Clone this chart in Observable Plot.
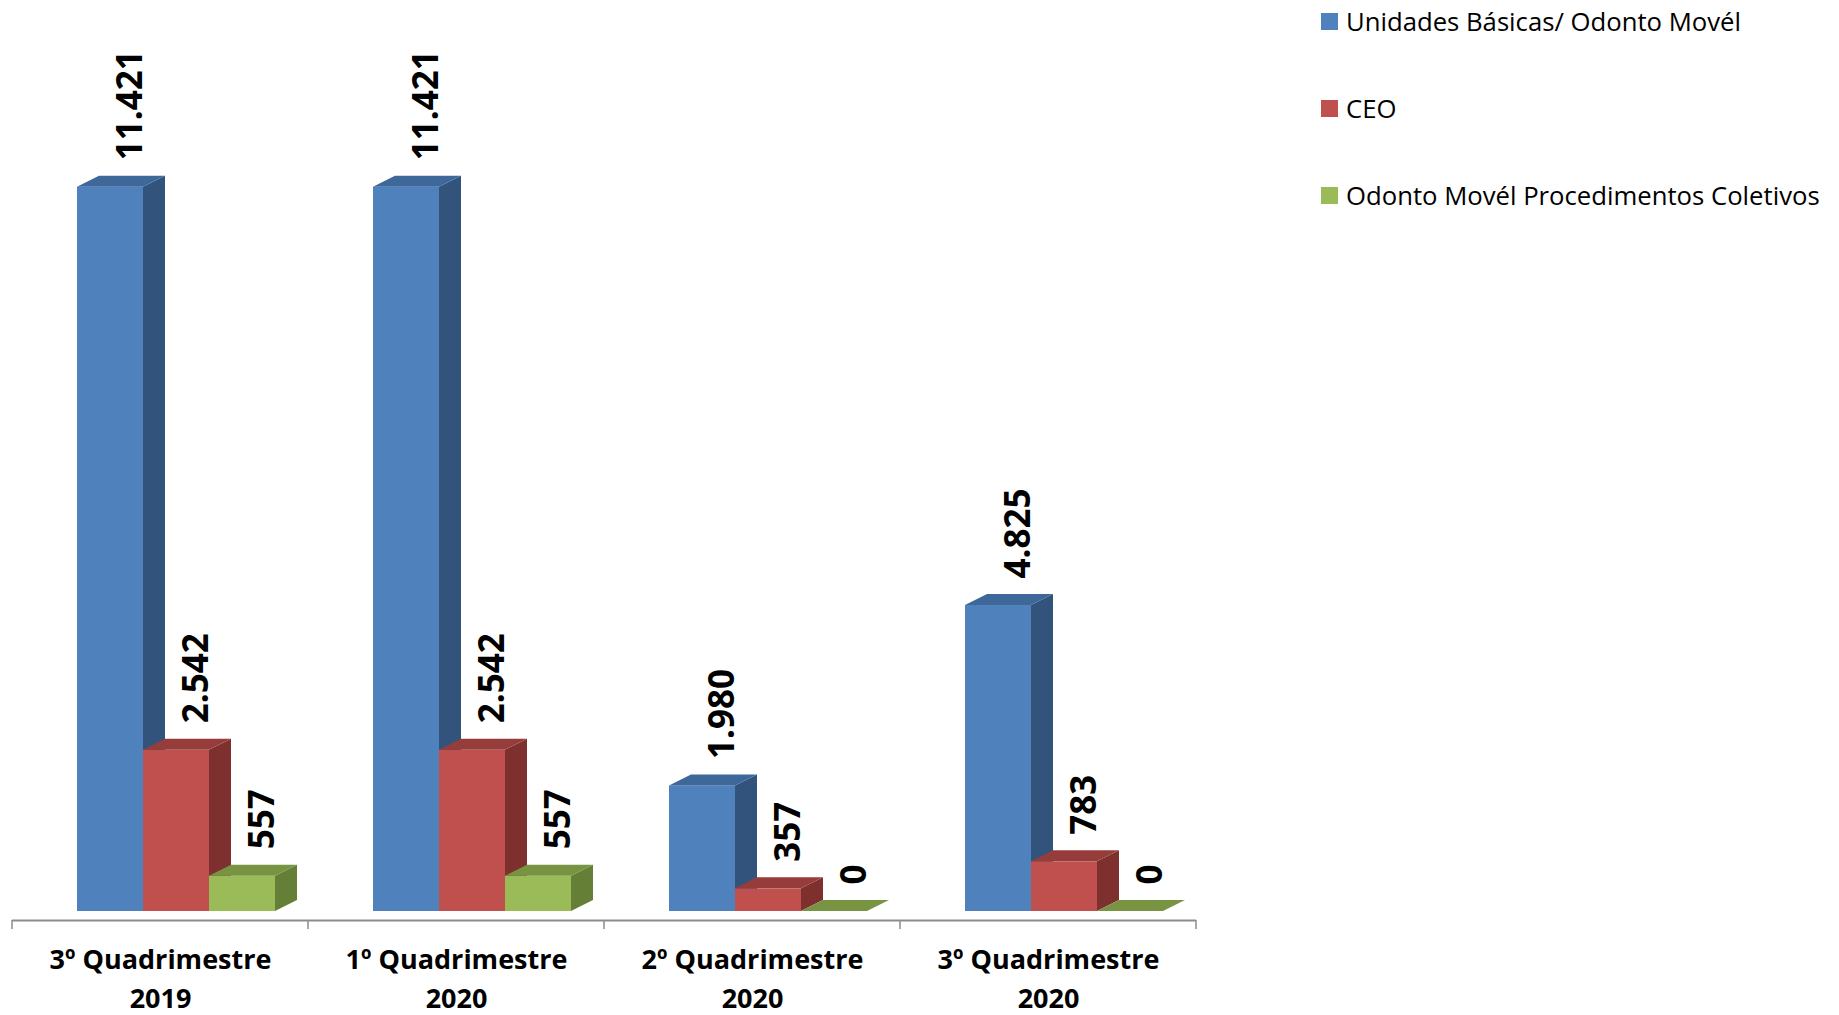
<!DOCTYPE html>
<html><head><meta charset="utf-8">
<script src="https://cdn.jsdelivr.net/npm/d3@7"></script>
<script src="https://cdn.jsdelivr.net/npm/@observablehq/plot@0.6"></script>
<style>
body{margin:0;background:#fff;}
#wrap{position:relative;width:1839px;height:1015px;overflow:hidden;font-family:"Open Sans",sans-serif;background:#fff;}
#chart{position:absolute;left:0;top:0;}
#legend{position:absolute;left:1321px;top:0;width:518px;height:230px;}
.item{position:absolute;left:0;height:34px;display:flex;align-items:center;white-space:nowrap;font-size:25.7px;color:#000;}
.sw{width:17px;height:17px;margin-right:8px;flex:none;}
</style></head>
<body><div id="wrap"><div id="chart"></div><div id="legend"></div></div>
<script>
// ---- data ----
const categories = ["3º Quadrimestre\n2019", "1º Quadrimestre\n2020", "2º Quadrimestre\n2020", "3º Quadrimestre\n2020"];
const seriesNames = ["Unidades Básicas/ Odonto Movél", "CEO", "Odonto Movél Procedimentos Coletivos"];
const unidadesBasicas = [11421, 11421, 1980, 4825];
const ceo = [2542, 2542, 357, 783];
const coletivos = [557, 557, 0, 0];

// ---- styles ----
const frontColors = ["#4F81BD", "#C0504D", "#9BBB59"];
const topColors = ["#3E6899", "#963D3B", "#789443"];
const sideColors = ["#32537C", "#7D302E", "#667F36"];

const W = 1839, H = 1015;
const mL = 12, mR = 643, mT = 150, mB = 104;
const bw = (W - mL - mR) / categories.length;
const groupOffset = 65, barW = 66, depthX = 22, depthY = 11;

const seriesValues = [unidadesBasicas, ceo, coletivos];
const rows = seriesValues.map((vals, s) => categories.map((cat, i) => ({cat, series: seriesNames[s], s, value: vals[i]})));

const ptBR = d3.formatLocale({decimal: ",", thousands: ".", grouping: [3], currency: ["R$", ""]});
const fmt = ptBR.format(",d");
const svgNS = "http://www.w3.org/2000/svg";

function faces(s, data) {
  return (index, scales) => {
    const g = document.createElementNS(svgNS, "g");
    const yb = scales.y(0);
    for (const d of data) {
      const x0 = scales.x(d.cat) + groupOffset + barW * s;
      const x1 = x0 + barW;
      const yt = scales.y(d.value);
      const side = document.createElementNS(svgNS, "polygon");
      side.setAttribute("points", `${x1},${yb} ${x1},${yt} ${x1 + depthX},${yt - depthY} ${x1 + depthX},${yb - depthY}`);
      side.setAttribute("fill", sideColors[s]);
      g.appendChild(side);
      const top = document.createElementNS(svgNS, "polygon");
      top.setAttribute("points", `${x0},${yt} ${x1},${yt} ${x1 + depthX},${yt - depthY} ${x0 + depthX},${yt - depthY}`);
      top.setAttribute("fill", topColors[s]);
      g.appendChild(top);
    }
    return g;
  };
}

function axisTicks(index, scales) {
  const g = document.createElementNS(svgNS, "g");
  const y = scales.y(0) + 9;
  const xs = categories.map(c => scales.x(c)).concat([scales.x(categories[categories.length - 1]) + scales.x.bandwidth()]);
  for (const x of xs) {
    const l = document.createElementNS(svgNS, "line");
    l.setAttribute("x1", x); l.setAttribute("x2", x);
    l.setAttribute("y1", y); l.setAttribute("y2", y + 9);
    l.setAttribute("stroke", "#8C8C8C"); l.setAttribute("stroke-width", 1.5);
    g.appendChild(l);
  }
  return g;
}

const marks = [
  Plot.ruleY([0], {dy: 9, stroke: "#8C8C8C", strokeWidth: 2})
];
marks.push(axisTicks);
rows.forEach((data, s) => {
  marks.push(Plot.barY(data, {
    x: "cat", y: "value", fill: frontColors[s],
    insetLeft: groupOffset + barW * s,
    insetRight: bw - groupOffset - barW * (s + 1)
  }));
  marks.push(faces(s, data));
});
rows.forEach((data, s) => {
  marks.push(Plot.text(data, {
    x: "cat", y: "value", text: d => fmt(d.value),
    rotate: -90, textAnchor: "start",
    dx: groupOffset + barW * s + barW / 2 + 20 - bw / 2, dy: -27,
    fontSize: 35, fontWeight: "bold", fill: "#000"
  }));
});
marks.push(Plot.text(categories, {
  x: d => d, text: d => d, frameAnchor: "bottom", lineAnchor: "top",
  dy: 30, fontSize: 27, fontWeight: "bold", lineHeight: 1.44, fill: "#000"
}));

const chart = Plot.plot({
  width: W, height: H,
  marginLeft: mL, marginRight: mR, marginTop: mT, marginBottom: mB,
  style: {fontFamily: "Open Sans", background: "transparent", color: "#000"},
  x: {type: "band", domain: categories, padding: 0, round: false, axis: null},
  y: {domain: [0, 12000], axis: null},
  marks
});
document.getElementById("chart").appendChild(chart);

// legend
const legend = document.getElementById("legend");
const centers = [21, 108, 195];
seriesNames.forEach((name, s) => {
  const it = document.createElement("div");
  it.className = "item";
  it.style.top = (centers[s] - 17) + "px";
  const sw = document.createElement("span");
  sw.className = "sw"; sw.style.background = frontColors[s];
  const tx = document.createElement("span");
  tx.textContent = name;
  it.appendChild(sw); it.appendChild(tx);
  legend.appendChild(it);
});
</script>
</body></html>
